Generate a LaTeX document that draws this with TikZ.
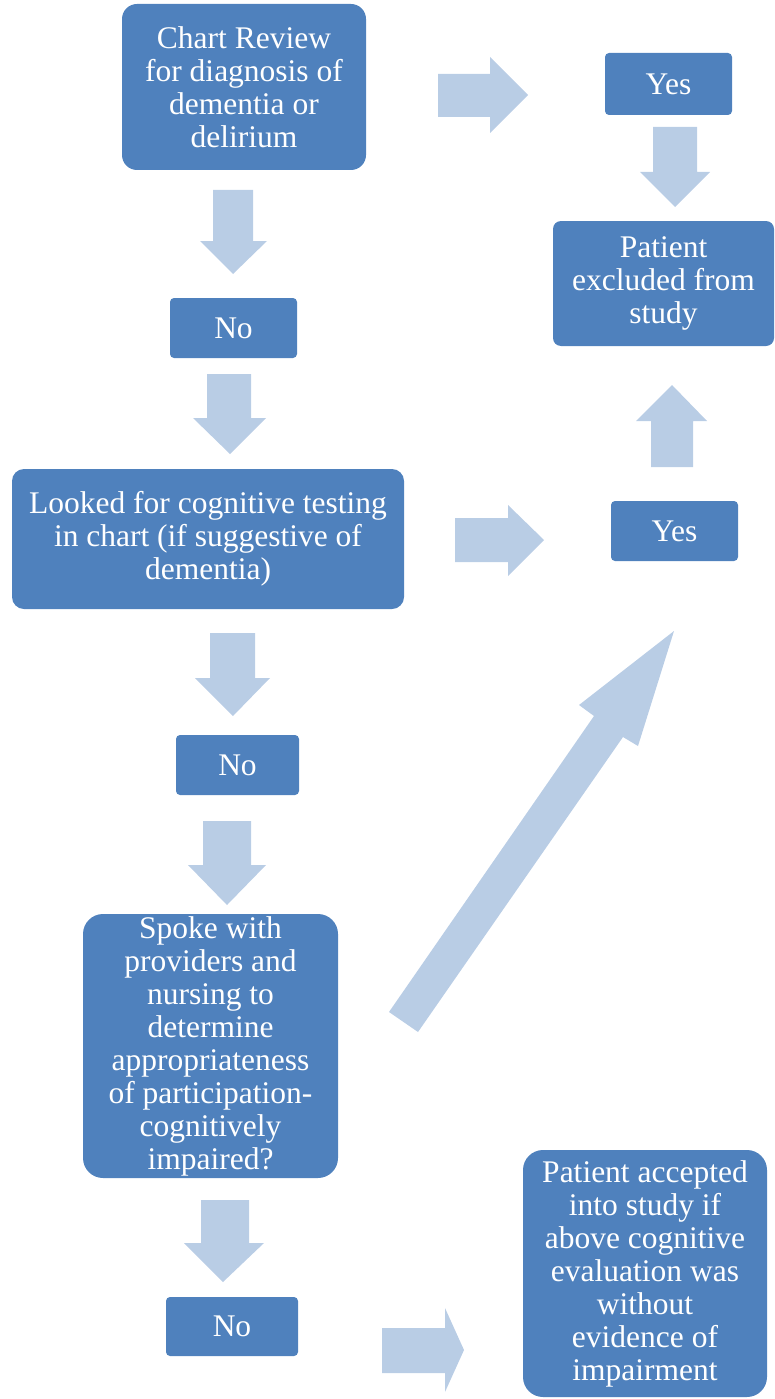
\documentclass[tikz,border=0pt]{standalone}
\usepackage{fontspec}
\setmainfont{Liberation Serif}
\definecolor{boxblue}{HTML}{4F81BD}
\definecolor{arrowblue}{HTML}{B9CDE5}
\begin{document}
\begin{tikzpicture}[x=1pt,y=-1pt,
  flowbox/.style={rectangle, fill=boxblue, text=white, inner sep=0pt, align=center,
    font=\fontsize{31.5}{33}\selectfont},
  blockarrow/.style={fill=arrowblue, draw=none}]
\useasboundingbox (0,0) rectangle (774,1399);
% boxes
\node[flowbox, rounded corners=15pt, minimum width=244pt, minimum height=166pt] (chart) at (244,87)
  {Chart Review\\for diagnosis of\\dementia or\\delirium};
\node[flowbox, rounded corners=4pt, minimum width=127pt, minimum height=62pt] (yes1) at (668.5,84) {Yes};
\node[flowbox, rounded corners=8pt, minimum width=221pt, minimum height=125pt] (excl) at (663.5,283.5)
  {Patient\\excluded from\\study};
\node[flowbox, rounded corners=4pt, minimum width=127pt, minimum height=60pt] (no1) at (233.5,328) {No};
\node[flowbox, rounded corners=12pt, minimum width=392pt, minimum height=140pt] (looked) at (208,539)
  {Looked for cognitive testing\\in chart (if suggestive of\\dementia)};
\node[flowbox, rounded corners=4pt, minimum width=127pt, minimum height=60pt] (yes2) at (674.5,531) {Yes};
\node[flowbox, rounded corners=4pt, minimum width=123pt, minimum height=60pt] (no2) at (237.5,765) {No};
\node[flowbox, rounded corners=20pt, minimum width=255pt, minimum height=264pt] (spoke) at (210.5,1046)
  {Spoke with\\providers and\\nursing to\\determine\\appropriateness\\of participation-\\cognitively\\impaired?};
\node[flowbox, rounded corners=4pt, minimum width=132pt, minimum height=59pt] (no3) at (232,1326.5) {No};
\node[flowbox, rounded corners=20pt, minimum width=244pt, minimum height=247pt] (acc) at (645,1273.5)
  {Patient accepted\\into study if\\above cognitive\\evaluation was\\without\\evidence of\\impairment};
% block arrows
% right, top
\fill[blockarrow] (438,74) -- (490,74) -- (490,57) -- (528,95) -- (490,133) -- (490,117) -- (438,117) -- cycle;
% down under chart
\fill[blockarrow] (213,190) -- (253,190) -- (253,241) -- (267,241) -- (233,274) -- (200,241) -- (213,241) -- cycle;
% down under yes1
\fill[blockarrow] (653,127) -- (697,127) -- (697,172) -- (710,172) -- (675,207) -- (640,172) -- (653,172) -- cycle;
% down under no1
\fill[blockarrow] (207,374) -- (251,374) -- (251,418) -- (266,418) -- (230,454) -- (193,418) -- (207,418) -- cycle;
% up above yes2
\fill[blockarrow] (651,467) -- (693,467) -- (693,421) -- (707,421) -- (672,385) -- (636,421) -- (651,421) -- cycle;
% right, middle
\fill[blockarrow] (455,518) -- (508,518) -- (508,505) -- (544,540) -- (508,576) -- (508,562) -- (455,562) -- cycle;
% down under looked
\fill[blockarrow] (210,633) -- (255,633) -- (255,678) -- (270,678) -- (233,716) -- (195,678) -- (210,678) -- cycle;
% down under no2
\fill[blockarrow] (203,821) -- (251,821) -- (251,865) -- (266,865) -- (227,905) -- (188,865) -- (203,865) -- cycle;
% diagonal
\fill[blockarrow] (389,1012) -- (594,716) -- (579,705) -- (674,631) -- (638,746) -- (623,737) -- (418,1032) -- cycle;
% down under spoke
\fill[blockarrow] (201,1200) -- (249,1200) -- (249,1243) -- (264,1243) -- (223,1282) -- (184,1243) -- (201,1243) -- cycle;
% right, bottom
\fill[blockarrow] (382,1328) -- (445,1328) -- (445,1308) -- (464,1350) -- (445,1392) -- (445,1373) -- (382,1373) -- cycle;
\end{tikzpicture}
\end{document}
